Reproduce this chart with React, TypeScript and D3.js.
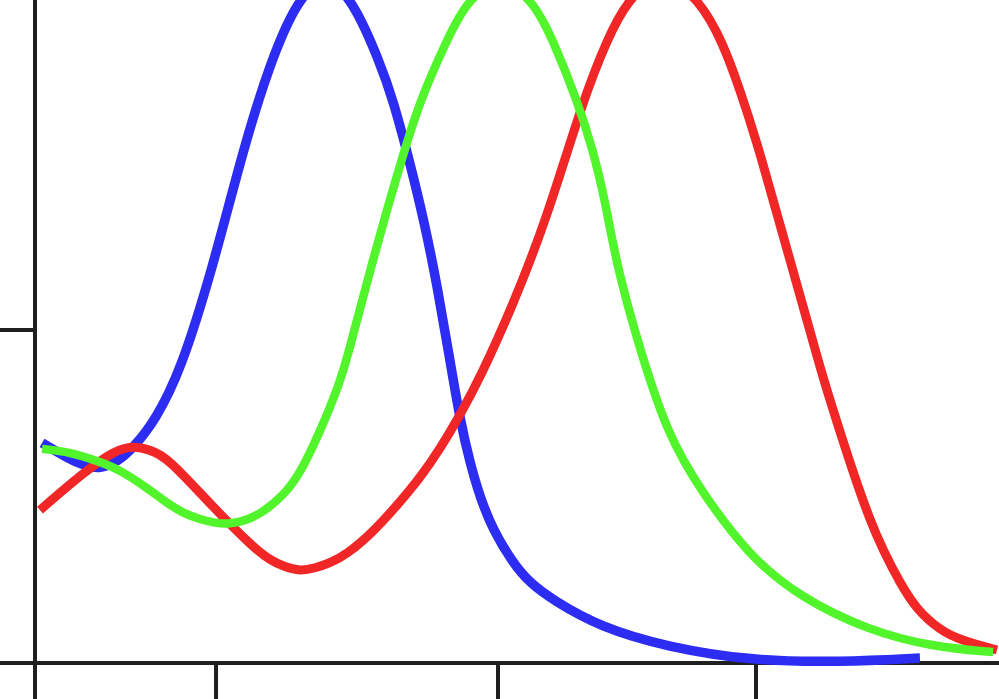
import React from "react";
import * as d3 from "d3";

type Pt = [number, number];

// readings, x in 0..100 along the axis, y where the y tick = 100
const blueValues: Pt[] = [
  [0.73, 66.1], [3.32, 61.6], [5.19, 59.2], [6.74, 58.3], [8.61, 60.4],
  [10.37, 65.2], [12.45, 72.9], [15.04, 87.1], [18.46, 118.9], [21.58, 154.1],
  [24.38, 180.2], [27.18, 199.1], [30.08, 207.0], [32.99, 199.1], [35.79, 180.2],
  [37.14, 169.1], [38.9, 150.2], [40.46, 131.5], [41.8, 112.0], [42.95, 92.5],
  [44.09, 73.0], [45.12, 60.1], [46.16, 49.8], [47.51, 39.9], [49.59, 30.0],
  [51.35, 24.0], [53.73, 18.9], [58.61, 10.8], [65.56, 4.8], [74.48, 0.6],
  [83.51, 0.3], [91.8, 1.5],
];

const greenValues: Pt[] = [
  [0.73, 64.3], [3.63, 63.4], [6.74, 60.4], [8.82, 58.0], [11.93, 52.0],
  [13.69, 48.0], [15.56, 44.7], [17.12, 43.2], [18.67, 42.0], [20.23, 41.7],
  [21.99, 42.9], [23.65, 45.3], [25.73, 50.2], [27.49, 56.8], [29.56, 69.4],
  [31.64, 84.1], [32.68, 94.9], [33.71, 106.3], [35.06, 121.0], [36.51, 136.0],
  [37.86, 149.5], [39.94, 169.1], [42.74, 187.1], [44.81, 199.1], [48.24, 206.0],
  [51.66, 199.1], [53.73, 187.1], [56.22, 169.1], [57.88, 154.1], [59.13, 139.0],
  [60.37, 118.9], [62.76, 94.0], [65.56, 69.1], [68.98, 52.0], [74.17, 31.8],
  [79.36, 19.8], [86.31, 9.9], [93.15, 4.8], [99.38, 3.3],
];

const redValues: Pt[] = [
  [0.52, 45.9], [4.98, 57.1], [8.3, 63.9], [10.17, 65.2], [11.93, 64.0],
  [13.69, 61.9], [18.46, 46.8], [22.61, 34.8], [24.38, 30.9], [25.93, 28.8],
  [27.49, 27.6], [29.05, 28.5], [30.6, 30.0], [32.37, 32.7], [34.96, 39.0],
  [37.86, 48.3], [39.94, 55.6], [42.01, 64.3], [44.09, 74.5], [46.16, 85.6],
  [49.59, 107.5], [53.11, 133.6], [56.85, 169.1], [59.34, 187.1], [61.41, 199.1],
  [65.04, 208.0], [68.98, 199.1], [71.37, 186.2], [73.13, 172.1], [74.9, 156.2],
  [76.56, 139.0], [78.32, 121.0], [80.08, 103.0], [81.74, 85.6], [83.51, 69.4],
  [85.06, 55.6], [86.62, 42.9], [87.97, 33.9], [89.73, 24.0], [91.49, 15.9],
  [93.88, 9.9], [95.95, 6.9], [99.79, 3.9],
];

const xTicks = [0, 18.78, 48.03, 74.79];
const yTicks = [100];

// drawing order: blue under red under green
const series = [
  { name: "blue", values: blueValues, color: "#2c2cf2", w: 9.5 },
  { name: "red", values: redValues, color: "#f12626", w: 9 },
  { name: "green", values: greenValues, color: "#52f52c", w: 8.5 },
];

const width = 999;
const height = 699;

const App = () => {
  const x = d3.scaleLinear().domain([0, 100]).range([35, 999]);
  const y = d3.scaleLinear().domain([0, 100]).range([663, 330]);

  const line = d3
    .line<Pt>()
    .x(d => x(d[0]))
    .y(d => y(d[1]))
    .curve(d3.curveBasis);

  const axisColor = "#1f1f1f";

  return (
    <svg
      width={width}
      height={height}
      style={{ position: "absolute", left: 0, top: 0, background: "#fff" }}
    >
      {/* y axis */}
      <line x1={x(0)} x2={x(0)} y1={0} y2={y(0)} stroke={axisColor} strokeWidth={4}/>
      {yTicks.map(t => (
        <line key={t} x1={0} x2={x(0)} y1={y(t)} y2={y(t)} stroke={axisColor} strokeWidth={4}/>
      ))}
      {/* x axis */}
      <line x1={0} x2={width} y1={y(0)} y2={y(0)} stroke={axisColor} strokeWidth={4}/>
      {xTicks.map(t => (
        <line key={t} x1={x(t)} x2={x(t)} y1={y(0)} y2={height} stroke={axisColor} strokeWidth={4}/>
      ))}
      {series.map(s => (
        <path
          key={s.name}
          d={line(s.values) || ""}
          fill="none"
          stroke={s.color}
          strokeWidth={s.w}
          strokeLinejoin="round"
          strokeLinecap="butt"
        />
      ))}
    </svg>
  );
};

export default App;
